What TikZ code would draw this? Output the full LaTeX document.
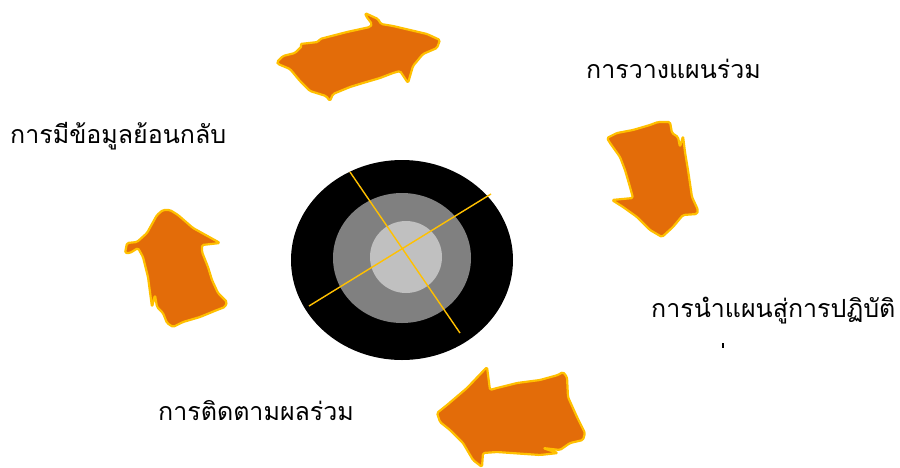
\documentclass[tikz,border=0pt]{standalone}
\usepackage{fontspec}
\newfontfamily\thaifont[Script=Thai]{Loma}
\definecolor{arroworange}{HTML}{E36C09}
\definecolor{arrowgold}{HTML}{FFC000}
\definecolor{midgray}{HTML}{808080}
\definecolor{lightgray2}{HTML}{C0C0C0}
\tikzset{
  roughArrow/.style={fill=arroworange, draw=arrowgold, line width=2.2pt, rounded corners=1.5pt, line join=round},
  stageLabel/.style={anchor=base west, inner sep=0pt, font=\thaifont\fontsize{25}{28}\selectfont},
  crossLine/.style={draw=arrowgold, line width=1.4pt}
}
\begin{document}
\begin{tikzpicture}[x=1pt,y=-1pt]
\useasboundingbox (0,0) rectangle (900,467);
% central target
\fill[black] (402,260) ellipse [x radius=111, y radius=100];
\fill[midgray] (402,258) ellipse [x radius=69, y radius=65];
\fill[lightgray2] (406,257) circle [radius=36];
\coordinate (l1a) at (350,172);
\coordinate (l1b) at (460,333);
\coordinate (l2a) at (309,306);
\coordinate (l2b) at (491,194);
\draw[crossLine] (l1a) -- (l1b);
\draw[crossLine] (l2a) -- (l2b);
% top arrow (pointing right)
\draw[roughArrow] (277,62) -- (283,56) -- (295,53) -- (302,46) -- (300,44) -- (318,42) -- (320,39) -- (347,32) -- (370,27) -- (372,24) -- (366,16) -- (365,13) -- (378,19) -- (381,24) -- (393,26) -- (427,34) -- (440,40) -- (437,48) -- (423,54) -- (413,66) -- (408,83) -- (400,71) -- (393,73) -- (380,78) -- (363,83) -- (350,87) -- (333,94) -- (330,101) -- (326,96) -- (310,91) -- (300,81) -- (290,69) -- (278,64) -- cycle;
% right arrow (pointing down)
\draw[roughArrow] (607,138) -- (617,133) -- (633,130) -- (650,125) -- (658,122) -- (670,122) -- (672,133) -- (678,137) -- (680,147) -- (683,136) -- (685,152) -- (688,170) -- (692,197) -- (698,210) -- (697,214) -- (683,215) -- (673,227) -- (662,237) -- (650,230) -- (637,217) -- (623,207) -- (612,200) -- (633,198) -- (630,187) -- (625,170) -- (620,157) -- (610,143) -- cycle;
% bottom arrow (pointing left)
\draw[roughArrow] (437,413) -- (447,405) -- (467,388) -- (487,367) -- (490,390) -- (497,388) -- (517,383) -- (540,380) -- (558,375) -- (563,372) -- (567,377) -- (568,397) -- (577,417) -- (585,433) -- (583,440) -- (570,443) -- (560,450) -- (543,448) -- (558,453) -- (540,455) -- (497,452) -- (483,453) -- (482,467) -- (473,460) -- (463,443) -- (450,430) -- (440,422) -- cycle;
% left arrow (pointing up)
\draw[roughArrow] (125,253) -- (127,243) -- (137,242) -- (147,233) -- (157,215) -- (163,210) -- (170,210) -- (178,215) -- (193,228) -- (220,243) -- (202,245) -- (202,252) -- (208,267) -- (212,280) -- (218,293) -- (227,302) -- (225,307) -- (217,310) -- (200,317) -- (183,322) -- (173,327) -- (167,323) -- (163,313) -- (157,307) -- (155,295) -- (152,307) -- (148,277) -- (143,257) -- (138,248) -- (130,253) -- cycle;
% labels
\node[stageLabel] (plan) at (586,78) {การวางแผนร่วม};
\node[stageLabel] (feedback) at (10,143) {การมีข้อมูลย้อนกลับ};
\node[stageLabel] (implement) at (651,317) {การนำแผนสู่การปฏิบัติ};
\node[stageLabel] (monitor) at (158,420) {การติดตามผลร่วม};
\fill[black] (722,343) rectangle (724,348);
\end{tikzpicture}
\end{document}
